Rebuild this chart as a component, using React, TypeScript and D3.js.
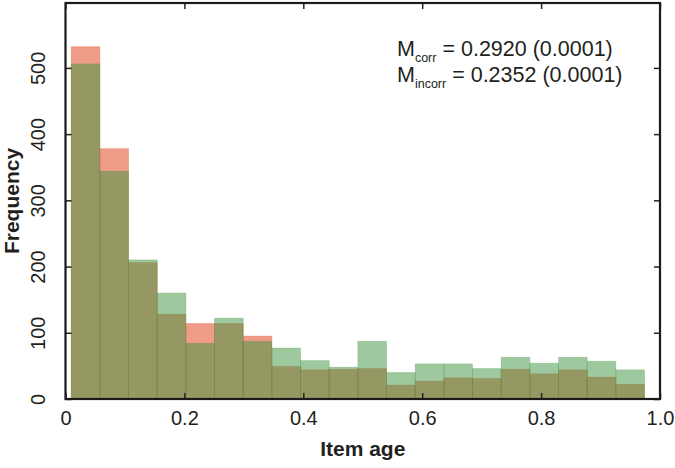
import React, { useRef, useEffect } from 'react';
import * as d3 from 'd3';

// histogram of item age, 20 equal bins between the min and max age
const ageMin = 0.0096;
const ageMax = 0.974;
const binCount = 20;

// counts per bin
const incorrectCounts = [532, 378, 206, 128, 114, 114, 95, 49, 44, 45, 46, 21, 27, 32, 31, 45, 38, 44, 33, 22];
const correctCounts = [506, 344, 210, 160, 84, 122, 87, 77, 58, 48, 87, 40, 53, 53, 46, 63, 54, 63, 57, 44];

const xTicks = [0, 0.2, 0.4, 0.6, 0.8, 1.0];
const yTicks = [0, 100, 200, 300, 400, 500];

const annotations = [
    { sub: 'corr', rest: ' = 0.2920 (0.0001)' },
    { sub: 'incorr', rest: ' = 0.2352 (0.0001)' },
];

const FONT = "'Liberation Sans', Arial, Helvetica, sans-serif";

const App = () => {
    const svgRef = useRef<SVGSVGElement>(null);

    useEffect(() => {
        const svg = d3.select(svgRef.current);
        svg.selectAll('*').remove();

        const width = 675;
        const height = 468;
        const margin = { top: 3, right: 15, bottom: 69, left: 65.5 };

        const x = d3.scaleLinear()
            .domain([0, 1])
            .range([margin.left, width - margin.right]);

        const y = d3.scaleLinear()
            .domain([0, 598])
            .range([height - margin.bottom, margin.top]);

        const binWidth = (ageMax - ageMin) / binCount;
        const edges = d3.range(binCount).map(i => ageMin + i * binWidth);

        const drawBars = (counts: number[], fill: string, opacity: number) => {
            svg.append('g')
                .selectAll('rect')
                .data(counts)
                .join('rect')
                .attr('x', (d, i) => x(edges[i]))
                .attr('width', (d, i) => x(edges[i] + binWidth) - x(edges[i]))
                .attr('y', d => y(d))
                .attr('height', d => y(0) - y(d))
                .attr('fill', fill)
                .attr('fill-opacity', opacity)
                .attr('stroke', fill)
                .attr('stroke-opacity', opacity * 0.6)
                .attr('stroke-width', 0.8);
        };

        drawBars(incorrectCounts, 'rgb(225,85,50)', 0.58);
        drawBars(correctCounts, 'rgb(62,148,62)', 0.5);

        // bottom axis with ticks pointing inward
        svg.append('g')
            .attr('transform', `translate(0,${y(0)})`)
            .call(d3.axisBottom(x).tickValues(xTicks).tickSize(-6).tickPadding(12)
                .tickFormat(d => (d === 1 ? '1.0' : d === 0 ? '0' : String(d))))
            .call(g => g.select('.domain').remove())
            .call(g => g.selectAll('.tick line').attr('stroke', '#222').attr('stroke-width', 1.5))
            .call(g => g.selectAll('.tick text')
                .attr('font-family', FONT).attr('font-size', 20).attr('fill', '#231f20'));

        // top mirror ticks
        svg.append('g')
            .attr('transform', `translate(0,${margin.top})`)
            .call(d3.axisTop(x).tickValues(xTicks).tickSize(-6).tickFormat(() => ''))
            .call(g => g.select('.domain').remove())
            .call(g => g.selectAll('.tick line').attr('stroke', '#222').attr('stroke-width', 1.5));

        // left axis, labels rotated
        svg.append('g')
            .attr('transform', `translate(${margin.left},0)`)
            .call(d3.axisLeft(y).tickValues(yTicks).tickSize(-6).tickFormat(d3.format('d')))
            .call(g => g.select('.domain').remove())
            .call(g => g.selectAll('.tick line').attr('stroke', '#222').attr('stroke-width', 1.5))
            .call(g => g.selectAll('.tick text')
                .attr('x', null).attr('dy', null)
                .attr('transform', 'translate(-21,0) rotate(-90)')
                .attr('text-anchor', 'middle')
                .attr('font-family', FONT).attr('font-size', 20).attr('fill', '#231f20'));

        // right mirror ticks
        svg.append('g')
            .attr('transform', `translate(${width - margin.right},0)`)
            .call(d3.axisRight(y).tickValues(yTicks).tickSize(-6).tickFormat(() => ''))
            .call(g => g.select('.domain').remove())
            .call(g => g.selectAll('.tick line').attr('stroke', '#222').attr('stroke-width', 1.5));

        // frame
        svg.append('rect')
            .attr('x', margin.left)
            .attr('y', margin.top)
            .attr('width', width - margin.right - margin.left)
            .attr('height', y(0) - margin.top)
            .attr('fill', 'none')
            .attr('stroke', '#1a1a1a')
            .attr('stroke-width', 2.2);

        // axis titles
        svg.append('text')
            .attr('x', (margin.left + width - margin.right) / 2)
            .attr('y', 456)
            .attr('text-anchor', 'middle')
            .attr('font-family', FONT)
            .attr('font-weight', 'bold')
            .attr('font-size', 21)
            .attr('fill', '#231f20')
            .text('Item age');

        svg.append('text')
            .attr('transform', `translate(19,${(margin.top + y(0)) / 2}) rotate(-90)`)
            .attr('text-anchor', 'middle')
            .attr('font-family', FONT)
            .attr('font-weight', 'bold')
            .attr('font-size', 21)
            .attr('fill', '#231f20')
            .text('Frequency');

        // mean annotations
        annotations.forEach((a, i) => {
            const t = svg.append('text')
                .attr('x', 397)
                .attr('y', 56 + i * 26)
                .attr('font-family', FONT)
                .attr('font-size', 21.5)
                .attr('fill', '#231f20');
            t.append('tspan').text('M');
            t.append('tspan').attr('font-size', 12.5).attr('dy', 6).text(a.sub);
            t.append('tspan').attr('dy', -6).text(a.rest);
        });
    }, []);

    return (
        <svg ref={svgRef} width={675} height={468}
            style={{ position: 'absolute', left: 0, top: 0, background: '#fff' }} />
    );
};

export default App;
